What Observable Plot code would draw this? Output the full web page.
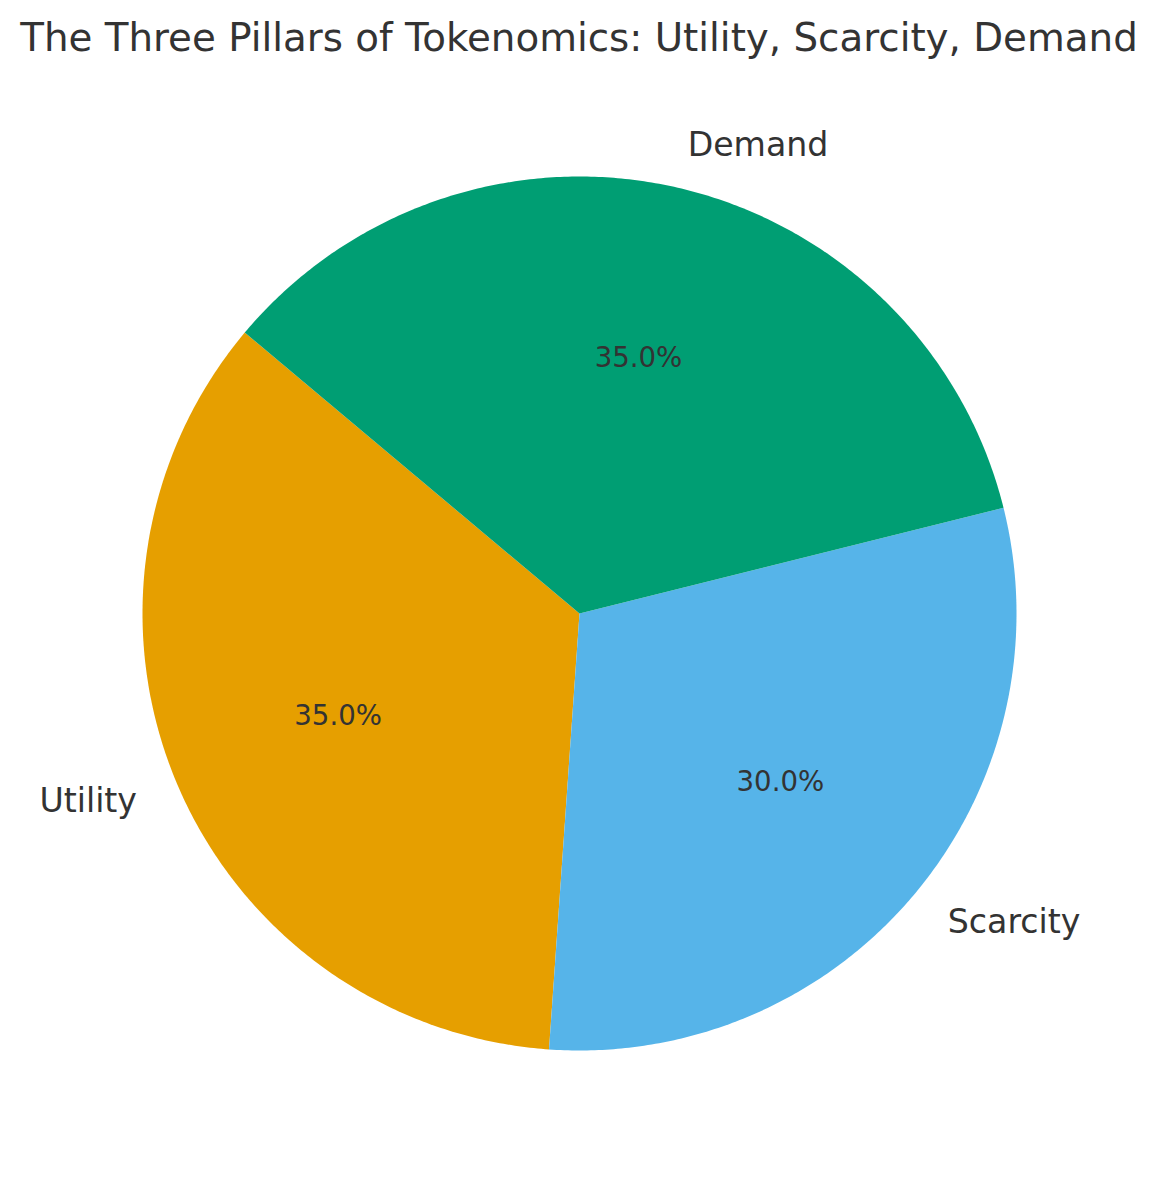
<!DOCTYPE html>
<html>
<head>
<meta charset="utf-8">
<script src="https://cdn.jsdelivr.net/npm/d3@7"></script>
<script src="https://cdn.jsdelivr.net/npm/@observablehq/plot@0.6"></script>
<style>
  html, body { margin: 0; padding: 0; background: #fff; }
  #title { width: 1158px; height: 70px; box-sizing: border-box; padding-top: 18px;
    font-family: "DejaVu Sans", sans-serif; font-size: 38.8px; line-height: 39px;
    color: #333; text-align: center; white-space: nowrap; }
  #chart svg { display: block; }
</style>
</head>
<body>
<div id="title">The Three Pillars of Tokenomics: Utility, Scarcity, Demand</div>
<div id="chart"></div>
<script>
const categories = ["Utility", "Scarcity", "Demand"];
const values = [35, 30, 35];
const colors = ["#E69F00", "#56B4E9", "#009E73"];
const startAngle = 140; // degrees, counter-clockwise like matplotlib

const W = 1158, H = 1110, R = 437, cx = 579, cy = 543;
const total = d3.sum(values);

// build wedge polygons and label positions from the data
const wedgePts = [];
const labels = [];
let cum = 0;
categories.forEach((cat, i) => {
  const a0 = startAngle + cum / total * 360;
  cum += values[i];
  const a1 = startAngle + cum / total * 360;
  const rad = d => d * Math.PI / 180;
  wedgePts.push({cat, x: 0, y: 0});
  const n = Math.ceil((a1 - a0) / 0.5);
  for (let k = 0; k <= n; k++) {
    const a = rad(a0 + (a1 - a0) * k / n);
    wedgePts.push({cat, x: Math.cos(a), y: Math.sin(a)});
  }
  const am = rad((a0 + a1) / 2);
  labels.push({
    cat,
    pct: (values[i] / total * 100).toFixed(1) + "%",
    lx: 1.1 * Math.cos(am), ly: 1.1 * Math.sin(am),
    px: 0.6 * Math.cos(am), py: 0.6 * Math.sin(am)
  });
});

const plot = Plot.plot({
  width: W, height: H,
  margin: 0,
  x: {domain: [-cx / R, (W - cx) / R], axis: null},
  y: {domain: [-(H - cy) / R, cy / R], axis: null},
  color: {domain: categories, range: colors},
  style: {fontFamily: "DejaVu Sans, sans-serif", color: "#333", background: "white"},
  marks: [
    Plot.line(wedgePts, {x: "x", y: "y", z: "cat", fill: "cat", stroke: "none", curve: "linear"}),
    Plot.text(labels, {x: "px", y: "py", text: "pct", fontSize: 27.6, fill: "#333", textAnchor: "middle"}),
    Plot.text(labels.filter(d => d.lx >= 0), {x: "lx", y: "ly", text: "cat", fontSize: 33.2, fill: "#333", textAnchor: "start"}),
    Plot.text(labels.filter(d => d.lx < 0), {x: "lx", y: "ly", text: "cat", fontSize: 33.2, fill: "#333", textAnchor: "end"})
  ]
});
document.getElementById("chart").appendChild(plot);
</script>
</body>
</html>
